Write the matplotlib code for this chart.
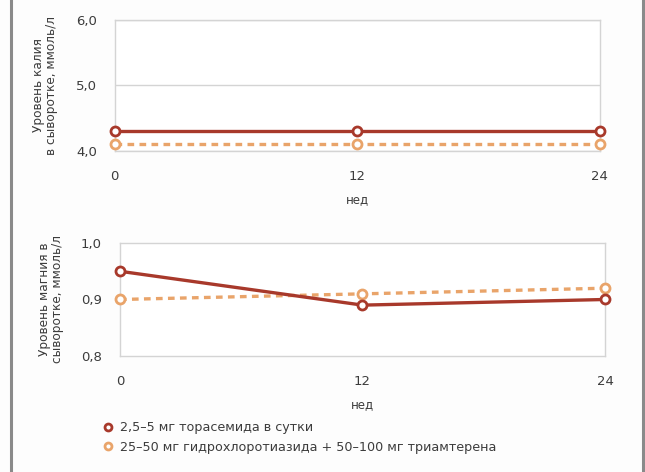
import matplotlib.pyplot as plt
from matplotlib.lines import Line2D

# Недели наблюдения
nedeli = [0, 12, 24]

# Калий в сыворотке, ммоль/л
kaliy_torasemid = [4.3, 4.3, 4.3]
kaliy_gidrohlor = [4.1, 4.1, 4.1]

# Магний в сыворотке, ммоль/л
magniy_torasemid = [0.95, 0.89, 0.90]
magniy_gidrohlor = [0.90, 0.91, 0.92]

nazvaniya = ['2,5–5 мг торасемида в сутки',
             '25–50 мг гидрохлоротиазида + 50–100 мг триамтерена']

krasny = '#a8392b'
oranzh = '#e9a46a'
seryi = '#d4d4d4'
tekst = '#3c3c3c'

plt.rcParams['font.family'] = ['DejaVu Sans']

fig = plt.figure(figsize=(6.45, 4.72), dpi=100)
fig.patch.set_facecolor('#fdfdfd')

# рамка слева и справа
fig.add_artist(Line2D([0.017, 0.017], [0, 1], color='#8a8a8a', lw=2.2,
                      transform=fig.transFigure))
fig.add_artist(Line2D([0.997, 0.997], [0, 1], color='#8a8a8a', lw=2.2,
                      transform=fig.transFigure))


def risuem(ax, y1, y2, ylim, yticks, ylabel, lp):
    ax.set_facecolor('white')
    ax.plot(nedeli, y1, color=krasny, lw=2.4, marker='o', ms=6.5,
            mfc='white', mec=krasny, mew=2, zorder=4, clip_on=False)
    ax.plot(nedeli, y2, color=oranzh, lw=2.4, ls=(0, (2, 1.6)), marker='o',
            ms=6.5, mfc='white', mec=oranzh, mew=2, zorder=3, clip_on=False)
    ax.set_xlim(0, 24)
    ax.set_ylim(*ylim)
    ax.set_xticks(nedeli)
    ax.set_yticks(yticks)
    ax.set_yticklabels([f'{t:.1f}'.replace('.', ',') for t in yticks])
    ax.tick_params(length=0, colors=tekst, labelsize=9.5)
    ax.tick_params(axis='x', pad=14)
    ax.tick_params(axis='y', pad=13)
    for s in ax.spines.values():
        s.set_color(seryi)
        s.set_linewidth(1)
    ax.set_xlabel('нед', color=tekst, fontsize=8.5, labelpad=7)
    ax.set_ylabel(ylabel, color=tekst, fontsize=8.7, linespacing=1.0,
                  labelpad=lp)


ax1 = fig.add_axes([0.178, 0.680, 0.752, 0.278])
risuem(ax1, kaliy_torasemid, kaliy_gidrohlor, (4.0, 6.0), [4.0, 5.0, 6.0],
       'Уровень калия\nв сыворотке, ммоль/л', 13)
ax1.yaxis.grid(True, color=seryi, lw=1)
ax1.set_axisbelow(True)

ax2 = fig.add_axes([0.186, 0.246, 0.752, 0.239])
risuem(ax2, magniy_torasemid, magniy_gidrohlor, (0.8, 1.0), [0.8, 0.9, 1.0],
       'Уровень магния в\nсыворотке, ммоль/л', 12)

ruchki = [Line2D([], [], ls='none', marker='o', ms=5, mfc='white',
                 mec=c, mew=2) for c in (krasny, oranzh)]
fig.legend(ruchki, nazvaniya, loc='upper left', bbox_to_anchor=(0.150, 0.118),
           frameon=False, fontsize=9.2, handletextpad=0.45, labelspacing=0.5,
           labelcolor=tekst, borderaxespad=0, handlelength=1)

fig.savefig('out.png', dpi=100, facecolor=fig.get_facecolor())
